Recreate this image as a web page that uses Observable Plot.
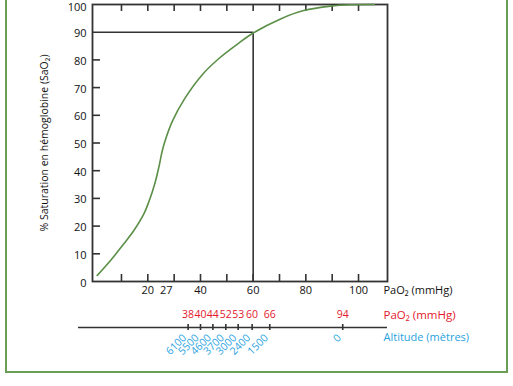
<!DOCTYPE html>
<html>
<head>
<meta charset="utf-8">
<script src="https://cdn.jsdelivr.net/npm/d3@7"></script>
<script src="https://cdn.jsdelivr.net/npm/@observablehq/plot@0.6"></script>
<style>
  html, body { margin: 0; padding: 0; background: #fff; }
  #wrap { position: relative; width: 513px; height: 386px; overflow: hidden; }
  #border { position: absolute; left: 5px; top: -10px; width: 503px; height: 383px; border: 2px solid #6b9e55; box-sizing: border-box; }
  #chart { position: absolute; left: 0; top: 0; }
</style>
</head>
<body>
<div id="wrap"><div id="border"></div><div id="chart"></div></div>
<script>
// Oxygen dissociation curve (PaO2 mmHg -> SaO2 %)
const curvePao2 = [0.8, 5.85, 10.9, 14.7, 18.5, 20.4, 22.7, 24.4, 25.2, 26.3, 29.3, 34, 41, 47, 53.9, 60, 70.4, 79.2, 89.4, 97, 106];
const curveSat  = [2.2, 7.6, 13.6, 18.4, 24.4, 28.8, 35.5, 42.2, 46, 50, 57.8, 66, 75, 80.5, 85.6, 89.7, 94.8, 97.8, 99.4, 99.9, 100];

// reference point marked on the curve
const markPao2 = 60;
const markSat = 90;

// axis ticks / labels
const xTicks = [10, 20, 30, 40, 50, 60, 70, 80, 90, 100];
const xTickLabels = [20, 27, 40, 60, 80, 100];
const yTicks = [10, 20, 30, 40, 50, 60, 70, 80];
const yTickLabels = [0, 10, 20, 30, 40, 50, 60, 70, 80, 90];
const yTopLabel = [100];

// altitude strip
const altPao2   = [38, 40, 44, 52, 53, 60, 66, 94];
const altMeters = [6100, 5500, 4600, 3700, 3000, 2400, 1500, 0];
const altTickAt = [35.3, 40, 44.7, 49.6, 54.3, 59.6, 66.3, 94]; // where each tick sits along the PaO2 scale (spread for legibility)

const xDomain = [-1, 111];
const W = 513, H = 386;
const mL = 92, mR = 126, mT = 4, mB = 105;
const frameW = W - mL - mR, frameH = H - mT - mB;

const curve = curvePao2.map((x, i) => ({x, y: curveSat[i]}));
const strip = altPao2.map((p, i) => ({pao2: p, alt: altMeters[i], at: altTickAt[i]}));

const dark = "#333";
const red = "#e3182d";
const blue = "#2aa3e0";
const green = "#5b8f47";

const chart = Plot.plot({
  width: W, height: H,
  marginLeft: mL, marginRight: mR, marginTop: mT, marginBottom: mB,
  style: {fontFamily: "Open Sans", fontSize: "11px", color: "#111", background: "transparent"},
  x: {domain: xDomain, axis: null},
  y: {domain: [0, 100], axis: null},
  marks: [
    // reference lines at 60 mmHg / 90 %
    Plot.ruleY([markSat], {x1: xDomain[0], x2: markPao2, stroke: dark, strokeWidth: 1.6}),
    Plot.ruleX([markPao2], {y1: 0, y2: markSat, stroke: dark, strokeWidth: 1.6}),
    // inward ticks
    Plot.ruleX(xTicks, {x: d => d, insetTop: frameH - 7, stroke: dark, strokeWidth: 1.6}),
    Plot.ruleX(xTicks, {x: d => d, insetBottom: frameH - 7, stroke: dark, strokeWidth: 1.6}),
    Plot.ruleY(yTicks, {y: d => d, insetRight: frameW - 8, stroke: dark, strokeWidth: 1.6}),
    Plot.frame({stroke: dark, strokeWidth: 1.8}),
    // curve
    Plot.line(curve, {x: "x", y: "y", curve: "catmull-rom", stroke: green, strokeWidth: 1.6}),
    // tick labels
    Plot.text(yTickLabels, {y: d => d, frameAnchor: "left", dx: -6, dy: 1.5, textAnchor: "end", text: d => String(d), fill: "#111"}),
    Plot.text(yTopLabel, {y: d => d, frameAnchor: "left", dx: -6, dy: 3, textAnchor: "end", text: d => String(d), fill: "#111"}),
    Plot.text(xTickLabels, {x: d => d, frameAnchor: "bottom", dy: 12, text: d => String(d), fill: "#111"}),
    Plot.text(["PaO₂ (mmHg)"], {frameAnchor: "bottom-right", dx: -4, dy: 12, textAnchor: "start", text: d => d, fill: "#111"}),
    // y axis title
    Plot.text(["% Saturation en hémoglobine (SaO₂)"], {frameAnchor: "left", dx: -48, rotate: -90, textAnchor: "middle", text: d => d, fill: "#111", fontSize: 10.5}),
    // altitude strip
    Plot.ruleY([0], {dy: 46, insetLeft: -14, stroke: dark, strokeWidth: 1.6}),
    Plot.ruleX(strip, {x: "at", insetTop: frameH + 43, insetBottom: -49, stroke: dark, strokeWidth: 1.6}),
    Plot.text(strip, {x: "at", frameAnchor: "bottom", dy: 36, text: d => String(d.pao2), fill: red, fontSize: 10.5}),
    Plot.text(strip, {x: "at", frameAnchor: "bottom", dy: 57, dx: -1, rotate: -45, textAnchor: "end", text: d => String(d.alt), fill: blue, fontSize: 10.5, letterSpacing: "0.5px"}),
    Plot.text(["PaO₂ (mmHg)"], {frameAnchor: "bottom-right", dx: -4, dy: 37, textAnchor: "start", text: d => d, fill: red, fontSize: 11.5}),
    Plot.text(["Altitude (mètres)"], {frameAnchor: "bottom-right", dx: -4, dy: 59, textAnchor: "start", text: d => d, fill: blue, fontSize: 11})
  ]
});
document.getElementById("chart").appendChild(chart);
</script>
</body>
</html>
